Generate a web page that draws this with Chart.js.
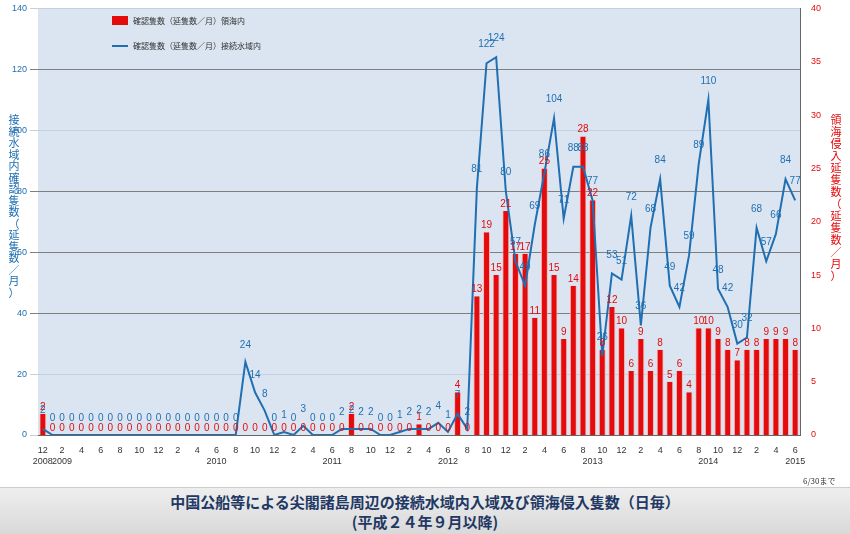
<!DOCTYPE html>
<html><head><meta charset="utf-8">
<script src="https://cdn.jsdelivr.net/npm/chart.js@4"></script>
<style>
body{margin:0;background:#fff;width:850px;height:534px;overflow:hidden;font-family:"Noto Sans CJK JP",sans-serif}
#wrap{position:absolute;left:0;top:0;width:850px;height:482px}
#band{position:absolute;left:0;top:487px;width:850px;height:47px;background:linear-gradient(#eeeeee,#d9d9d9);border-top:1px solid #ccc;text-align:center;color:#1f3864;font-weight:bold;font-size:15px;line-height:20px;padding-top:4px;box-sizing:border-box}
#note{position:absolute;left:803px;top:475px;font-size:8px;color:#333}
</style></head><body>
<div id="wrap"><canvas id="c" width="850" height="482"></canvas></div>
<div id="note">6/30まで</div>
<div id="band">中国公船等による尖閣諸島周辺の接続水域内入域及び領海侵入隻数（日毎）<br>(平成２４年９月以降)</div>
<script>
const months=[];const years=[];
(function(){let y=2008,m=12;for(let i=0;i<79;i++){months.push(m);years.push(y);m++;if(m>12){m=1;y++;}}})();
const contiguous=[2,
0,0,0,0,0,0,0,0,0,0,0,0,
0,0,0,0,0,0,0,0,24,14,8,0,
1,0,3,0,0,0,2,2,2,2,0,0,
1,2,2,2,4,1,7,2,81,122,124,80,
57,49,69,86,104,71,88,88,77,26,53,51,
72,36,68,84,49,42,59,89,110,48,42,30,
32,68,57,66,84,77];
const territorial=[2,
0,0,0,0,0,0,0,0,0,0,0,0,
0,0,0,0,0,0,0,0,0,0,0,0,
0,0,0,0,0,0,0,2,0,0,0,0,
0,0,1,0,0,0,4,0,13,19,15,21,
17,17,11,25,15,9,14,28,22,8,12,10,
6,9,6,8,5,6,4,10,10,9,8,7,
8,8,9,9,9,8];
const yearLabelAt={"2008-12":"2008","2009-2":"2009","2010-6":"2010","2011-6":"2011","2012-6":"2012","2013-9":"2013","2014-9":"2014","2015-6":"2015"};
const labels=months.map((m,i)=>m+"/"+years[i]);
const BLUE="#1f6fb2",RED="#e30b0b";
const deco={id:'deco',
 beforeDraw(ch){const a=ch.chartArea,c=ch.ctx;c.save();c.fillStyle="#dbe5f1";c.fillRect(a.left,a.top,a.right-a.left,a.bottom-a.top);c.restore();},
 afterDatasetsDraw(ch){const c=ch.ctx;c.save();c.font="10px 'Liberation Sans'";c.textAlign="center";
  const mb=ch.getDatasetMeta(0),ml=ch.getDatasetMeta(1);
  mb.data.forEach((b,i)=>{c.fillStyle=RED;c.fillText(territorial[i],b.x,b.y-4);});
  ml.data.forEach((p,i)=>{c.fillStyle=BLUE;c.fillText(contiguous[i],p.x,p.y-(territorial[i]?16:14));});
  c.textAlign="left";c.font="8px 'Noto Sans CJK JP'";
  c.fillStyle=RED;c.fillRect(112,16,16,9);c.fillStyle="#333";c.fillText("確認隻数（延隻数／月）領海内",133,24);
  c.strokeStyle=BLUE;c.lineWidth=2;c.beginPath();c.moveTo(112,46);c.lineTo(128,46);c.stroke();c.fillText("確認隻数（延隻数／月）接続水域内",133,49);
  c.font="11px 'Noto Sans CJK JP'";c.textAlign="center";
  const lt="接続水域内確認隻数（延隻数／月）",rt="領海侵入延隻数（延隻数／月）";
  c.fillStyle=BLUE;[...lt].forEach((ch2,i)=>c.fillText(ch2,14,124+i*11.5));
  c.fillStyle=RED;[...rt].forEach((ch2,i)=>c.fillText(ch2,836,124+i*12));
  c.restore();}};
new Chart(document.getElementById('c'),{
 data:{labels,datasets:[
  {type:'bar',label:'確認隻数（延隻数／月）領海内',data:territorial,yAxisID:'y2',backgroundColor:RED,borderColor:"#ffb3b3",borderWidth:{left:1,right:1},barPercentage:0.72,categoryPercentage:1,order:2},
  {type:'line',label:'確認隻数（延隻数／月）接続水域内',data:contiguous,yAxisID:'y',borderColor:BLUE,borderWidth:2,pointRadius:0,tension:0,order:1}]},
 options:{responsive:false,animation:false,devicePixelRatio:1,
  layout:{padding:{top:5,right:0,left:0,bottom:0}},
  plugins:{legend:{display:false},tooltip:{enabled:false}},
  scales:{
   x:{grid:{display:false},border:{color:"#666"},ticks:{autoSkip:false,maxRotation:0,color:"#333",font:{size:9},padding:2,
     callback:(v,i)=>{const m=months[i],y=years[i];const yl=yearLabelAt[y+"-"+m]||"";return [m%2===0?String(m):"",yl];}},
     afterFit:s=>{s.height=47;}},
   y:{position:'left',min:0,max:140,ticks:{stepSize:20,color:BLUE,font:{size:9}},grid:{color:(c)=>[40,60,80,120].includes(c.tick.value)?"#7f7f7f":"#c5d0de"},border:{display:false},afterFit:s=>{s.width=38;}},
   y2:{position:'right',min:0,max:40,ticks:{stepSize:5,color:RED,font:{size:9}},grid:{display:false},border:{color:"#666"},afterFit:s=>{s.width=50;}}
  }},
 plugins:[deco]});
</script>
</body></html>
